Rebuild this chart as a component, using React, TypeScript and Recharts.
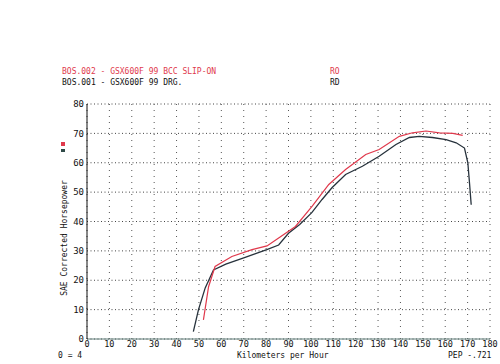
import { LineChart, Line, XAxis, YAxis, CartesianGrid } from "recharts";

// dyno run, speed in km/h vs SAE corrected horsepower
const drgKmh = [47.5, 49.8, 52.8, 56.5, 62, 70, 80.3, 85.6, 90, 95, 100.4, 105, 109.4, 115.5, 123, 130.5, 138, 144, 148.4, 154.3, 160.4, 164.9, 168.6, 170.1, 170.9, 171.6];
const drgHp = [2.5, 10, 17.4, 23.5, 25.5, 27.6, 30.4, 32, 36, 39, 43, 47.5, 51.5, 56, 58.8, 62.2, 66.2, 68.6, 69, 68.6, 67.9, 66.8, 65, 60, 52.6, 45.7];

const slipKmh = [52, 54.3, 57.2, 64.7, 73.7, 80.4, 85.6, 93.1, 100.6, 108, 115.5, 124.5, 130.5, 139.5, 145.4, 151.4, 157.4, 163.4, 167.8];
const slipHp = [6.5, 17.8, 24.7, 28.1, 30.4, 31.7, 34.4, 38.3, 45.2, 52.6, 57.7, 62.8, 64.5, 69, 70.2, 70.8, 70.2, 70, 69.3];

const xTicks = [0, 10, 20, 30, 40, 50, 60, 70, 80, 90, 100, 110, 120, 130, 140, 150, 160, 170, 180];
const yTicks = [0, 10, 20, 30, 40, 50, 60, 70, 80];

const drgData = drgKmh.map((k, i) => ({ k, hp: drgHp[i] }));
const slipData = slipKmh.map((k, i) => ({ k, hp: slipHp[i] }));

const mono = "'DejaVu Sans Mono', monospace";
const RED = "#e0394c";
const DARK = "#27323c";

const txt = (x: number, y: number, s: string, color = "#111", extra = {}) => (
  <div
    style={{
      position: "absolute",
      left: x,
      top: y,
      fontFamily: mono,
      fontSize: 8,
      color,
      whiteSpace: "nowrap",
      lineHeight: 1,
      ...extra,
    }}
  >
    {s}
  </div>
);

export default function App() {
  return (
    <div style={{ position: "absolute", left: 0, top: 0, width: 500, height: 364, background: "#fff", overflow: "hidden" }}>
      <LineChart width={500} height={364} margin={{ top: 104, right: 10, bottom: 0, left: 27 }}>
        <CartesianGrid vertical={false} stroke="#444" strokeDasharray="1 2.5" />
        <CartesianGrid horizontal={false} stroke="#555" strokeDasharray="1 5" />
        <XAxis
          type="number"
          dataKey="k"
          domain={[0, 180]}
          ticks={xTicks}
          interval={0}
          allowDataOverflow
          stroke="#5f7c78"
          tickLine={false}
          tickSize={0}
          tickMargin={2}
          height={25}
          tick={{ fontSize: 8.5, fontFamily: mono, fill: "#111" }}
        />
        <YAxis
          type="number"
          domain={[0, 80]}
          ticks={yTicks}
          interval={0}
          stroke="#111"
          tickLine={false}
          tickSize={0}
          tickMargin={3}
          width={60}
          tick={{ fontSize: 9, fontFamily: mono, fill: "#111" }}
        />
        <Line data={drgData} dataKey="hp" stroke={DARK} strokeWidth={1.3} dot={false} isAnimationActive={false} type="linear" />
        <Line data={slipData} dataKey="hp" stroke={RED} strokeWidth={1.2} dot={false} isAnimationActive={false} type="linear" />
      </LineChart>

      {txt(62, 68, "BOS.002 - GSX600F 99 BCC SLIP-ON", RED)}
      {txt(62, 79, "BOS.001 - GSX600F 99 DRG.", "#111")}
      {txt(330, 68, "RO", RED)}
      {txt(330, 79, "RD", "#111")}

      <div style={{ position: "absolute", left: 61, top: 142, width: 4, height: 4, background: RED }} />
      <div style={{ position: "absolute", left: 61, top: 149, width: 4, height: 3, background: "#2f4a48" }} />
      {txt(65, 238, "SAE Corrected Horsepower", "#111", { transform: "translate(-50%, -50%) rotate(-90deg)" })}

      {txt(58, 352, "0 = 4", "#111")}
      {txt(237, 352, "Kilometers per Hour", "#111")}
      {txt(448, 352, "PEP -.721", "#111")}
    </div>
  );
}
